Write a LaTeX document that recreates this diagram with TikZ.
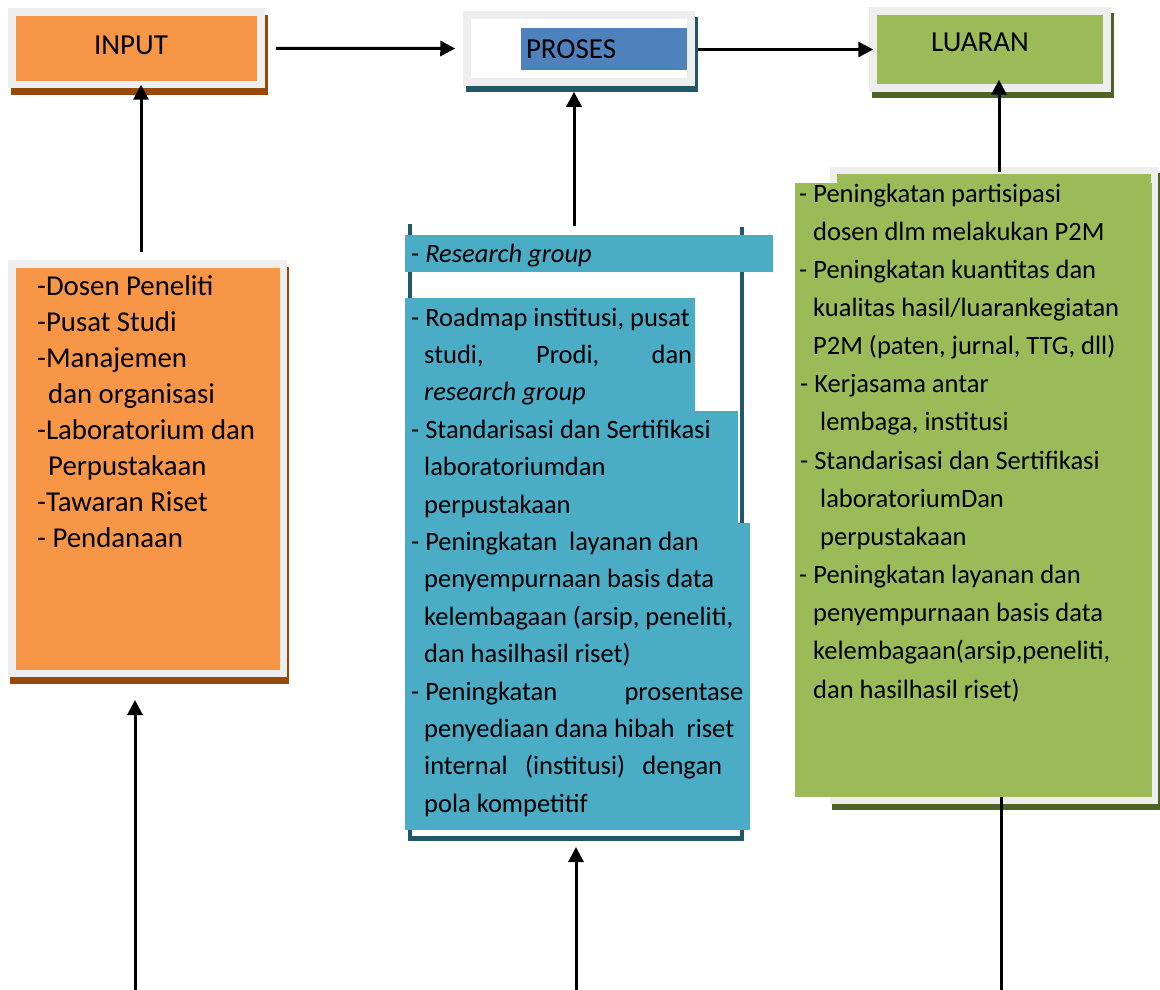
\documentclass[tikz,border=0pt]{standalone}
\usepackage{fontspec}
\setmainfont{Carlito}
\usetikzlibrary{arrows.meta}
\definecolor{framegray}{HTML}{EEEEEE}
\definecolor{inorange}{HTML}{F79646}
\definecolor{inbrown}{HTML}{984807}
\definecolor{problue}{HTML}{4F81BD}
\definecolor{proteal}{HTML}{4BACC6}
\definecolor{prodark}{HTML}{215868}
\definecolor{outgreen}{HTML}{9BBB59}
\definecolor{outolive}{HTML}{4F6228}
\tikzset{
  hbox/.style={draw=framegray, line width=7.5pt, inner sep=0pt, font=\fontsize{29}{35}\selectfont},
  shadowed/.style n args={3}{preaction={draw=#1, fill=#1, transform canvas={shift={(#2,#3)}}}},
  txt/.style={anchor=base west, inner sep=0pt},
  intxt/.style={txt, font=\fontsize{28.8}{36}\selectfont},
  arr/.style={line width=3pt, -{Triangle[length=15pt,width=15pt]}},
}
\begin{document}
\begin{tikzpicture}[x=1pt,y=-1pt,font=\fontsize{26.5}{37}\selectfont]
\useasboundingbox (0,0) rectangle (1160,990);
\node[hbox, fill=inorange, shadowed={inbrown}{3pt}{-7pt}, minimum width=249pt, minimum height=72.5pt, text depth=7pt] (input) at (136.5,48.25) {\hspace*{-11pt}INPUT};
\node[hbox, fill=white, shadowed={prodark}{3pt}{-6pt}, minimum width=224pt, minimum height=67pt] (prosesbox) at (579,48.5) {};
\node[fill=problue, inner sep=0pt, minimum width=166pt, minimum height=42pt, font=\fontsize{29}{35}\selectfont] (proses) at (604,49) {\makebox[156pt][l]{PROSES}};
\node[hbox, fill=outgreen, shadowed={outolive}{3pt}{-6pt}, minimum width=234pt, minimum height=77pt, text depth=14pt] (luaran) at (990,49.5) {\hspace*{-20pt}LUARAN};
\node[hbox, fill=inorange, shadowed={inbrown}{2pt}{-7pt}, minimum width=271.5pt, minimum height=409.5pt] (inlist) at (147.5,468.5) {};
\draw[prodark, line width=4.5pt] (410,224) -- (410,838.5) -- (742,838.5) -- (742,227);
\coordinate (protop) at (574,226);
\coordinate (profoot) at (576,840);
\fill[proteal] (405,235) rectangle (773,272);
\fill[proteal] (405,298) rectangle (695,412);
\fill[proteal] (405,411) rectangle (738,524);
\fill[proteal] (405,523) rectangle (750,830);
\node[hbox, line width=7pt, fill=outgreen, shadowed={outolive}{2pt}{-6pt}, minimum width=321pt, minimum height=630pt] (outbox) at (994,485.5) {};
\node[fill=outgreen, inner sep=0pt, minimum width=357pt, minimum height=614pt] (outfill) at (973.5,490) {};
\coordinate (inbot) at (135,990);
\coordinate (probot) at (576,990);
\coordinate (outbot) at (1001,990);
\draw[arr, shorten <=11pt, shorten >=8pt] (input.east) -- (prosesbox.west);
\draw[arr, shorten <=3pt, shorten >=-4pt] (prosesbox.east |- luaran.west) -- (luaran.west);
\draw[arr, shorten <=8pt, shorten >=-3.5pt] ([xshift=-6.5pt]inlist.north) -- ([xshift=-6.5pt]inlist.north |- input.south);
\draw[arr, shorten >=6pt] (protop) -- (protop |- prosesbox.south);
\draw[arr, shorten <=-5pt, shorten >=-12pt] ([xshift=5pt]outbox.north) -- ([xshift=5pt]outbox.north |- luaran.south);
\draw[arr, shorten >=23pt] (inbot) -- (inbot |- inlist.south);
\draw[arr, shorten >=7pt] (probot) -- (profoot);
\draw[line width=3pt] (outbot) -- (outbot |- outfill.south);
\node[intxt] (i1) at (37,295) {-Dosen Peneliti};
\node[intxt] (i2) at (37,331) {-Pusat Studi};
\node[intxt] (i3) at (37,367) {-Manajemen};
\node[intxt] (i4) at (48,403) {dan organisasi};
\node[intxt] (i5) at (37,439) {-Laboratorium dan};
\node[intxt] (i6) at (48,475) {Perpustakaan};
\node[intxt] (i7) at (37,511) {-Tawaran Riset};
\node[intxt] (i8) at (37,547) {- Pendanaan};
\node[txt] (p0) at (411,262) {- \textit{Research group}};
\node[txt] (p1) at (411,326) {- Roadmap institusi, pusat};
\node[txt] (p2) at (424,363.4) {\makebox[268pt][s]{studi, Prodi, dan}};
\node[txt] (p3) at (424,400.8) {\textit{research group}};
\node[txt] (p4) at (411,438.2) {- Standarisasi dan Sertifikasi};
\node[txt] (p5) at (424,475.6) {laboratoriumdan};
\node[txt] (p6) at (424,513) {perpustakaan};
\node[txt] (p7) at (411,550.4) {- Peningkatan \ layanan dan};
\node[txt] (p8) at (424,587.8) {penyempurnaan basis data};
\node[txt] (p9) at (424,625.2) {kelembagaan (arsip, peneliti,};
\node[txt] (p10) at (424,662.6) {dan hasilhasil riset)};
\node[txt] (p11) at (411,700) {- \makebox[318pt][s]{Peningkatan prosentase}};
\node[txt] (p12) at (424,737.4) {penyediaan dana hibah \ riset};
\node[txt] (p13) at (424,774.8) {\makebox[298pt][s]{internal (institusi) dengan}};
\node[txt] (p14) at (424,812.2) {pola kompetitif};
\node[txt] (o1) at (799,202) {- Peningkatan partisipasi};
\node[txt] (o2) at (813,240.2) {dosen dlm melakukan P2M};
\node[txt] (o3) at (799,278.3) {- Peningkatan kuantitas dan};
\node[txt] (o4) at (813,316.5) {kualitas hasil/luarankegiatan};
\node[txt] (o5) at (813,354.6) {P2M (paten, jurnal, TTG, dll)};
\node[txt] (o6) at (800,392.8) {- Kerjasama antar};
\node[txt] (o7) at (820,430.9) {lembaga, institusi};
\node[txt] (o8) at (800,469.1) {- Standarisasi dan Sertifikasi};
\node[txt] (o9) at (820,507.2) {laboratoriumDan};
\node[txt] (o10) at (820,545.4) {perpustakaan};
\node[txt] (o11) at (799,583.5) {- Peningkatan layanan dan};
\node[txt] (o12) at (813,621.7) {penyempurnaan basis data};
\node[txt] (o13) at (813,659.8) {kelembagaan(arsip,peneliti,};
\node[txt] (o14) at (813,698) {dan hasilhasil riset)};
\end{tikzpicture}
\end{document}
